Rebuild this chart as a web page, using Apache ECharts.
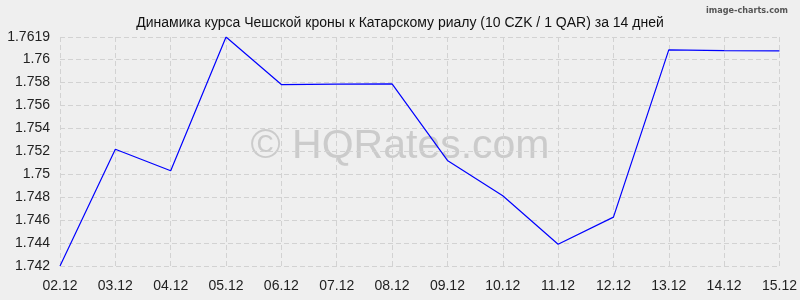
<!DOCTYPE html>
<html><head><meta charset="utf-8">
<script src="https://cdn.jsdelivr.net/npm/echarts@6/dist/echarts.min.js"></script>
<style>html,body{margin:0;padding:0;background:#efefef}#c{width:800px;height:300px}</style>
</head><body><div id="c"></div>
<script>
const titleText = 'Динамика курса Чешской кроны к Катарскому риалу (10 CZK / 1 QAR) за 14 дней';
const categories = ['02.12','03.12','04.12','05.12','06.12','07.12','08.12','09.12','10.12','11.12','12.12','13.12','14.12','15.12'];
const rates = [1.7420,1.75215,1.75028,1.7619,1.75777,1.7578,1.75783,1.75117,1.7481,1.74389,1.74625,1.76078,1.76072,1.76069];
const yMin = 1.742, yMax = 1.7619, yStep = 0.002;

const chart = echarts.init(document.getElementById('c'), null, {renderer:'canvas'});
const font = 'Liberation Sans, Arial, sans-serif';
chart.setOption({
  backgroundColor:'#efefef',
  animation:false,
  title:[{text:titleText,left:'center',top:11,textStyle:{fontFamily:font,fontSize:14,fontWeight:'normal',color:'#111'}},
         {text:'image-charts.com',right:7,top:1,textStyle:{fontFamily:'Liberation Sans Narrow, DejaVu Sans Condensed, sans-serif',fontSize:9,fontWeight:'bold',color:'#555'}}],
  graphic:[{type:'text',left:'center',top:126,z:0,silent:true,style:{text:'© HQRates.com',fontFamily:font,fontSize:41,fill:'#cbcbcb'}}],
  grid:{left:60,right:20,top:37,bottom:34,containLabel:false},
  xAxis:{type:'category',data:categories,boundaryGap:false,
    axisLine:{show:false},axisTick:{show:false},
    axisLabel:{fontFamily:font,fontSize:14,color:'#222',margin:13,interval:0},
    splitLine:{show:true,lineStyle:{color:'#d2d2d2',type:[5,3],width:1}}},
  yAxis:{type:'value',min:yMin,max:yMax,interval:yStep,
    axisLine:{show:false},axisTick:{show:false},
    axisLabel:{fontFamily:font,fontSize:14,color:'#222',margin:10,formatter:v=>String(+v.toFixed(4))},
    splitLine:{show:true,lineStyle:{color:'#d2d2d2',type:[5,3],width:1}}},
  series:[{type:'line',data:rates,symbol:'none',z:5,lineStyle:{color:'#0000ff',width:1.2}}]
});
</script></body></html>
